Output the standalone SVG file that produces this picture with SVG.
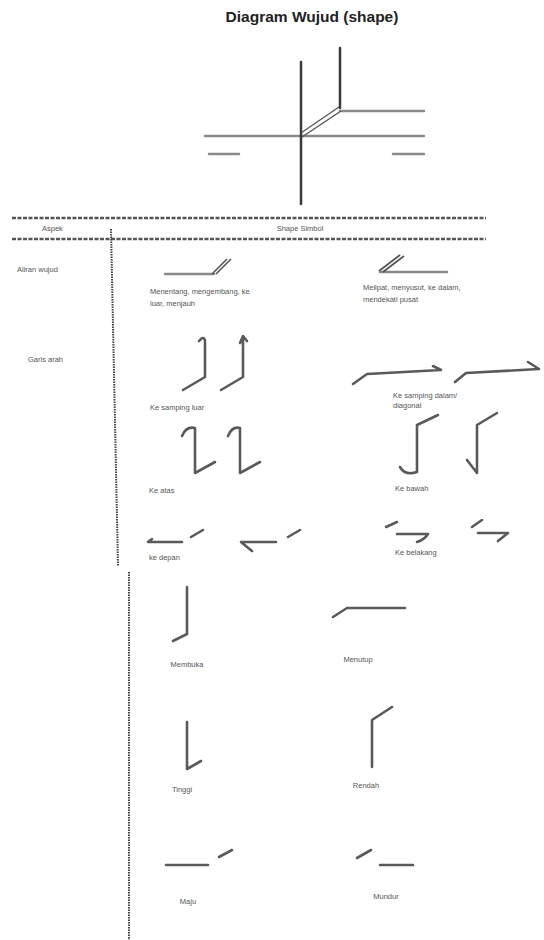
<svg xmlns="http://www.w3.org/2000/svg" width="544" height="940" viewBox="0 0 544 940">
<style>
text{font-family:"Liberation Sans",Arial,sans-serif;fill:#555;font-size:7.5px}
.title{font-size:15.5px;font-weight:bold;fill:#222}
.g{stroke:#8a8a8a;stroke-width:2.5;fill:none;stroke-linecap:round}
.d{stroke:#3a3a3a;stroke-width:2.5;fill:none;stroke-linecap:round}
.s{stroke:#5a5a5a;stroke-width:2.6;fill:none;stroke-linecap:round;stroke-linejoin:round}
.dash{stroke:#555;stroke-width:2.4;stroke-dasharray:4 1.5;fill:none}
.dot{stroke:#444;stroke-width:2;stroke-dasharray:1.5 1;fill:none}
</style>
<rect width="544" height="940" fill="#fff"/>
<text class="title" x="312" y="22" text-anchor="middle">Diagram Wujud (shape)</text>

<g id="top-figure">
<line class="g" x1="205" y1="136" x2="424" y2="136"/>
<line class="g" x1="340" y1="111" x2="424" y2="111"/>
<line class="g" x1="209" y1="154" x2="239" y2="154"/>
<line class="g" x1="393" y1="154" x2="424" y2="154"/>
<line class="d" x1="301" y1="62" x2="301" y2="204"/>
<line class="d" x1="340" y1="48" x2="340" y2="108"/>
<line stroke="#555" stroke-width="1.3" x1="301" y1="133" x2="339" y2="107"/>
<line stroke="#555" stroke-width="1.3" x1="302" y1="137" x2="341" y2="111"/>
</g>

<g id="header">
<line class="dash" x1="12" y1="218" x2="486" y2="218"/>
<line class="dash" x1="12" y1="239" x2="486" y2="239"/>
<text x="42" y="231">Aspek</text>
<text x="300" y="231" text-anchor="middle">Shape Simbol</text>
</g>

<g id="dividers">
<line class="dot" x1="111" y1="229" x2="118" y2="566"/>
<line class="dot" x1="129" y1="572" x2="129" y2="940"/>
</g>

<g id="aliran-wujud">
<text x="17" y="272">Aliran wujud</text>
<line class="g" x1="165" y1="274" x2="214" y2="274"/>
<line stroke="#555" stroke-width="1.6" x1="212" y1="274" x2="227" y2="259"/>
<line stroke="#555" stroke-width="1.6" x1="216" y1="274" x2="231" y2="259"/>
<text x="150" y="294">Menentang, mengembang, ke</text>
<text x="150" y="306">luar, menjauh</text>
<line class="g" x1="380" y1="272" x2="447" y2="272"/>
<line stroke="#555" stroke-width="1.6" x1="379" y1="271" x2="400" y2="255"/>
<line stroke="#555" stroke-width="1.6" x1="383" y1="272" x2="404" y2="256"/>
<text x="363" y="290">Melipat, menyusut, ke dalam,</text>
<text x="363" y="302">mendekati pusat</text>
</g>

<g id="garis-arah">
<text x="28" y="362">Garis arah</text>
<path class="s" d="M183 390 L205 377 L205 341 Q204 335 199 341"/>
<path class="s" d="M221 390 L243 377 L243 337 M240 343 L243 336 L247 341"/>
<text x="150" y="410">Ke samping luar</text>
<path class="s" d="M353 384 L367 374 L441 370 M433 366 L441 370"/>
<path class="s" d="M455 382 L466 373 L539 369 M528 362 L539 369"/>
<text x="393" y="398">Ke samping dalam/</text>
<text x="393" y="408">diagonal</text>
<path class="s" d="M182 436 Q186 426 195 428 L195 473 L215 462"/>
<path class="s" d="M228 436 Q232 426 240 428 L240 473 L260 462"/>
<text x="149" y="493">Ke atas</text>
<path class="s" d="M438 415 L417 425 L417 472 Q405 476 400 467"/>
<path class="s" d="M497 413 L477 425 L477 473 L467 460"/>
<text x="395" y="491">Ke bawah</text>
<path class="s" d="M182 542 L148 542 L152 539"/>
<line class="s" x1="191" y1="537" x2="203" y2="530"/>
<path class="s" d="M276 542 L241 542 L252 551"/>
<line class="s" x1="288" y1="537" x2="300" y2="530"/>
<text x="149" y="560">ke depan</text>
<line class="s" x1="386" y1="527" x2="397" y2="522"/>
<path class="s" d="M397 534 L428 534 Q424 540 417 542"/>
<line class="s" x1="472" y1="527" x2="482" y2="520"/>
<path class="s" d="M478 533 L508 533 L498 541"/>
<text x="395" y="555">Ke belakang</text>
</g>

<g id="membuka">
<path class="s" d="M187 587 L187 634 L173 641"/>
<text x="187" y="667" text-anchor="middle">Membuka</text>
</g>
<g id="menutup">
<path class="s" d="M333 617 L347 608 L405 608"/>
<text x="358" y="662" text-anchor="middle">Menutup</text>
</g>
<g id="tinggi">
<path class="s" d="M187 722 L187 769 L201 761"/>
<text x="182" y="792" text-anchor="middle">Tinggi</text>
</g>
<g id="rendah">
<path class="s" d="M392 707 L372 720 L372 767"/>
<text x="366" y="788" text-anchor="middle">Rendah</text>
</g>
<g id="maju">
<path class="s" d="M166 865 L208 865"/>
<line class="s" x1="219" y1="857" x2="232" y2="850"/>
<text x="188" y="904" text-anchor="middle">Maju</text>
</g>
<g id="mundur">
<line class="s" x1="357" y1="858" x2="371" y2="850"/>
<path class="s" d="M380 865 L413 865"/>
<text x="386" y="899" text-anchor="middle">Mundur</text>
</g>
</svg>
